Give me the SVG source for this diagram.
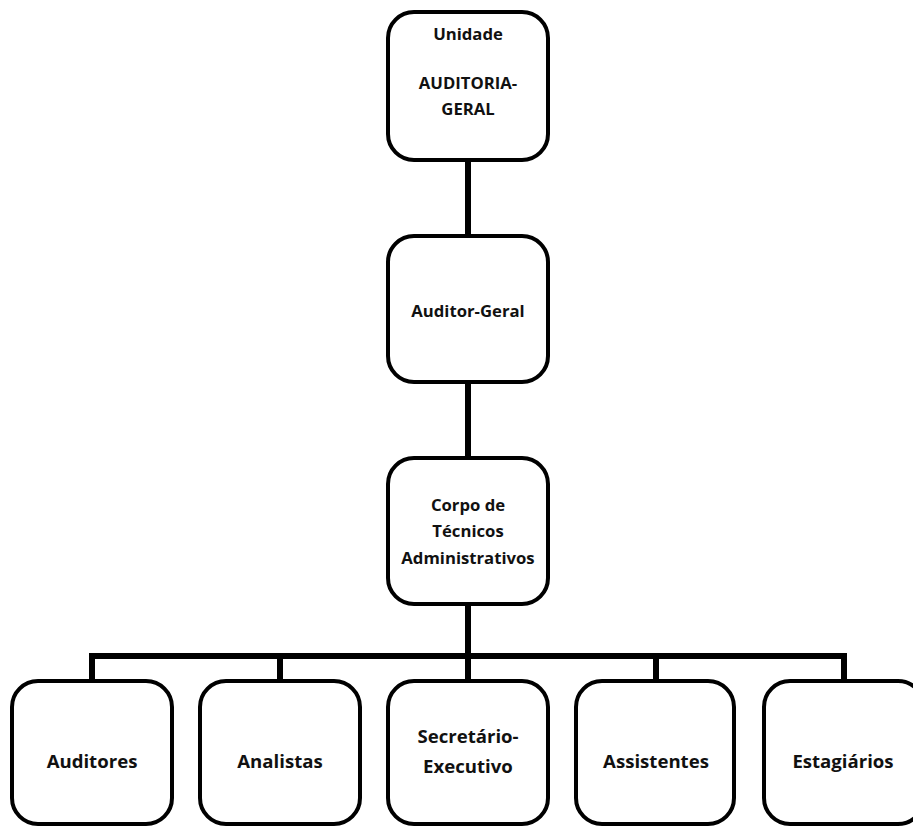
<svg xmlns="http://www.w3.org/2000/svg" width="913" height="827" viewBox="0 0 913 827">
<style>
.box{fill:#fff;stroke:#000;stroke-width:4}
.t{font-family:"Open Sans","Liberation Sans",sans-serif;font-weight:700;font-size:16.7px;fill:#111;text-anchor:middle}
.b{font-size:18.6px}
.c{stroke:#000;stroke-width:6;fill:none}
</style>
<rect width="913" height="827" fill="#fff"/>
<g id="connectors">
<line class="c" x1="468" y1="160" x2="468" y2="236"/>
<line class="c" x1="468" y1="382" x2="468" y2="458"/>
<line class="c" x1="468" y1="604" x2="468" y2="681"/>
<polyline class="c" points="92,681 92,656 844,656 844,681"/>
<line class="c" x1="280" y1="656" x2="280" y2="681"/>
<line class="c" x1="656" y1="656" x2="656" y2="681"/>
</g>
<g id="n-unidade">
<rect class="box" x="388" y="12" width="160" height="148" rx="26"/>
<text class="t" x="468" y="40">Unidade</text>
<text class="t" x="468" y="89">AUDITORIA-</text>
<text class="t" x="468" y="115">GERAL</text>
</g>
<g id="n-auditor-geral">
<rect class="box" x="388" y="236" width="160" height="146" rx="26"/>
<text class="t" x="468" y="317">Auditor-Geral</text>
</g>
<g id="n-corpo">
<rect class="box" x="388" y="458" width="160" height="146" rx="26"/>
<text class="t" x="468" y="511">Corpo de</text>
<text class="t" x="468" y="537">Técnicos</text>
<text class="t" x="468" y="564">Administrativos</text>
</g>
<g id="n-auditores">
<rect class="box" x="12" y="681" width="160" height="143" rx="26"/>
<text class="t b" x="92" y="768">Auditores</text>
</g>
<g id="n-analistas">
<rect class="box" x="200" y="681" width="160" height="143" rx="26"/>
<text class="t b" x="280" y="768">Analistas</text>
</g>
<g id="n-secretario">
<rect class="box" x="388" y="681" width="160" height="143" rx="26"/>
<text class="t b" x="468" y="743">Secretário-</text>
<text class="t b" x="468" y="773">Executivo</text>
</g>
<g id="n-assistentes">
<rect class="box" x="576" y="681" width="158" height="143" rx="26"/>
<text class="t b" x="656" y="768">Assistentes</text>
</g>
<g id="n-estagiarios">
<rect class="box" x="764" y="681" width="160" height="143" rx="26"/>
<text class="t b" x="843" y="768">Estagiários</text>
</g>
</svg>
